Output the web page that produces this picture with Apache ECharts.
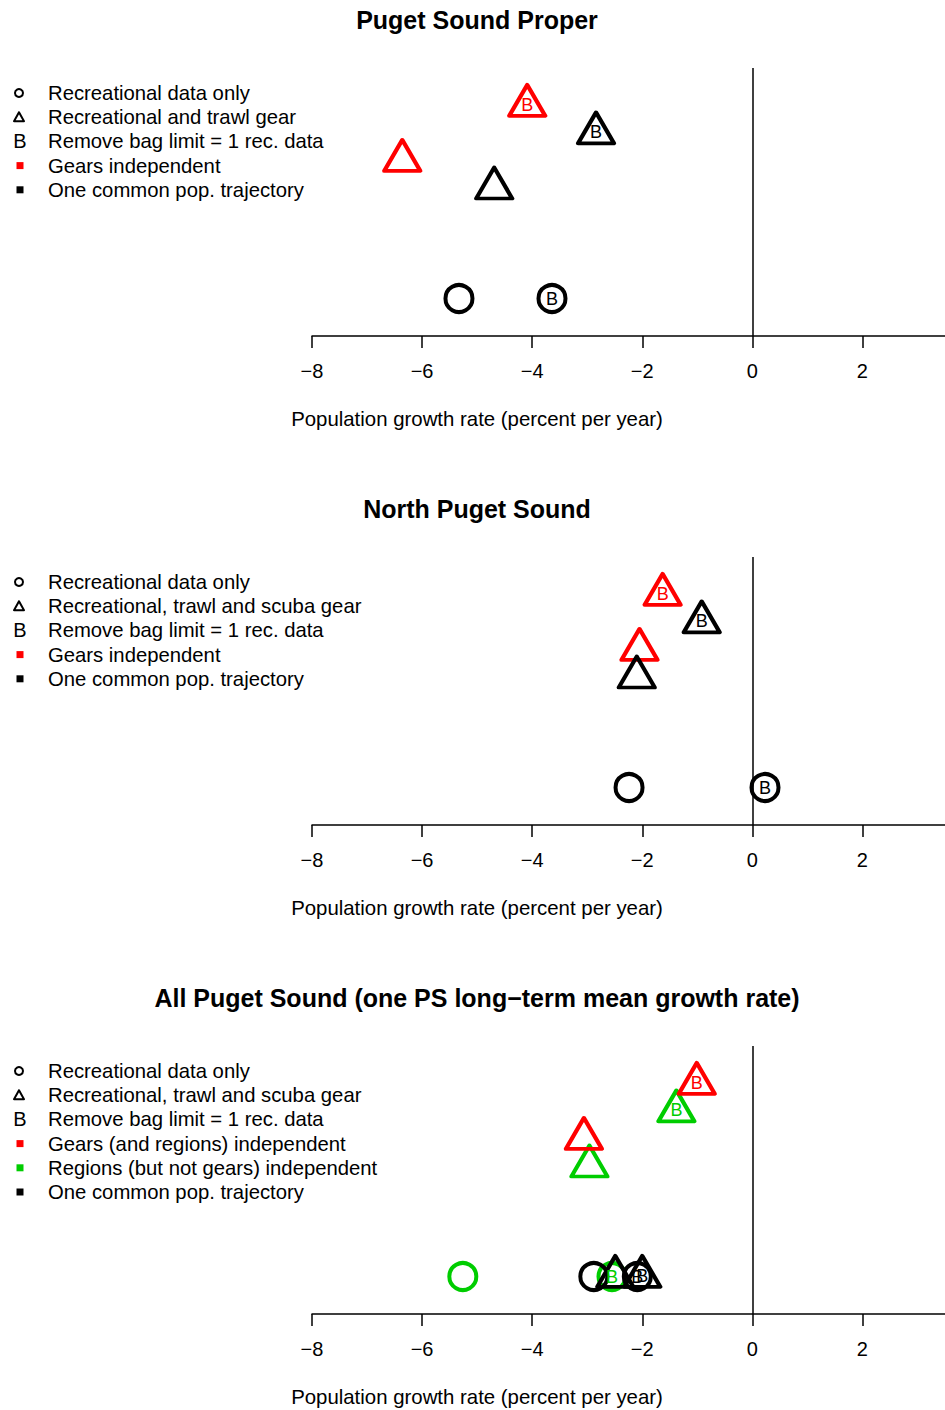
<!DOCTYPE html>
<html><head><meta charset="utf-8">
<script src="https://cdn.jsdelivr.net/npm/echarts@6/dist/echarts.min.js"></script>
<style>html,body{margin:0;padding:0;background:#fff}#c{width:945px;height:1410px}</style>
</head><body><div id="c"></div><script>
const FONT = "'Liberation Sans', Arial, sans-serif";
const xTicks = [-8, -6, -4, -2, 0, 2];
const panelTitles = ['Puget Sound Proper', 'North Puget Sound', 'All Puget Sound (one PS long\u2212term mean growth rate)'];
const xAxisTitle = 'Population growth rate (percent per year)';
const legend1 = ['Recreational data only', 'Recreational and trawl gear', 'Remove bag limit = 1 rec. data', 'Gears independent', 'One common pop. trajectory'];
const legend2 = ['Recreational data only', 'Recreational, trawl and scuba gear', 'Remove bag limit = 1 rec. data', 'Gears independent', 'One common pop. trajectory'];
const legend3 = ['Recreational data only', 'Recreational, trawl and scuba gear', 'Remove bag limit = 1 rec. data', 'Gears (and regions) independent', 'Regions (but not gears) independent', 'One common pop. trajectory'];

// values: [growth rate (%/yr), plotting row]
// Panel 1: Puget Sound Proper
const p1RedTri = [[-6.36, 5]];
const p1RedTriB = [[-4.09, 7]];
const p1BlackTri = [[-4.69, 4]];
const p1BlackTriB = [[-2.84, 6]];
const p1BlackCirc = [[-5.33, 0]];
const p1BlackCircB = [[-3.64, 0]];
// Panel 2: North Puget Sound
const p2RedTri = [[-2.05, 5]];
const p2RedTriB = [[-1.63, 7]];
const p2BlackTri = [[-2.10, 4]];
const p2BlackTriB = [[-0.92, 6]];
const p2BlackCirc = [[-2.24, 0]];
const p2BlackCircB = [[0.23, 0]];
// Panel 3: All Puget Sound
const p3RedTri = [[-3.06, 5]];
const p3RedTriB = [[-1.01, 7]];
const p3GreenTri = [[-2.96, 4]];
const p3GreenTriB = [[-1.38, 6]];
const p3GreenCirc = [[-5.26, 0]];
const p3GreenCircB = [[-2.55, 0]];
const p3BlackCirc = [[-2.88, 0]];
const p3BlackCircB = [[-2.09, 0]];
const p3BlackTri = [[-2.49, 0]];
const p3BlackTriB = [[-2.00, 0]];

const RED = '#FF0000', GREEN = '#00CD00', BLACK = '#000000';
const OFF = 489;

function ser(g, data, shape, color, withB, extra) {
  const tri = shape === 'triangle';
  const s = {
    type: 'scatter', xAxisIndex: g, yAxisIndex: g, data: data,
    symbol: shape, symbolSize: tri ? [36, 31] : 27,
    symbolOffset: tri ? [0, -5.2] : [0, 0],
    itemStyle: { color: 'rgba(0,0,0,0)', borderColor: color, borderWidth: 4, borderJoin: 'round', opacity: 1 },
    label: { show: withB, position: 'inside', formatter: 'B', color: color, fontSize: 18, fontFamily: FONT,
      textBorderWidth: 0, offset: tri ? [0, 4.5] : [0, 0] },
    emphasis: { disabled: true }, silent: true, animation: false
  };
  return Object.assign(s, extra || {});
}
function vline() {
  return { markLine: { silent: true, symbol: 'none', animation: false, label: { show: false },
    lineStyle: { color: '#000', width: 1.5, type: 'solid' }, data: [{ xAxis: 0 }] } };
}

const series = [
  ser(0, p1RedTri, 'triangle', RED, false, vline()),
  ser(0, p1RedTriB, 'triangle', RED, true),
  ser(0, p1BlackTri, 'triangle', BLACK, false),
  ser(0, p1BlackTriB, 'triangle', BLACK, true),
  ser(0, p1BlackCirc, 'circle', BLACK, false),
  ser(0, p1BlackCircB, 'circle', BLACK, true),

  ser(1, p2RedTri, 'triangle', RED, false, vline()),
  ser(1, p2RedTriB, 'triangle', RED, true),
  ser(1, p2BlackTri, 'triangle', BLACK, false),
  ser(1, p2BlackTriB, 'triangle', BLACK, true),
  ser(1, p2BlackCirc, 'circle', BLACK, false),
  ser(1, p2BlackCircB, 'circle', BLACK, true),

  ser(2, p3GreenTri, 'triangle', GREEN, false, vline()),
  ser(2, p3RedTri, 'triangle', RED, false),
  ser(2, p3GreenTriB, 'triangle', GREEN, true),
  ser(2, p3RedTriB, 'triangle', RED, true),
  ser(2, p3GreenCirc, 'circle', GREEN, false),
  ser(2, p3GreenCircB, 'circle', GREEN, true),
  ser(2, p3BlackCirc, 'circle', BLACK, false),
  ser(2, p3BlackCircB, 'circle', BLACK, true),
  ser(2, p3BlackTri, 'triangle', BLACK, false),
  ser(2, p3BlackTriB, 'triangle', BLACK, true)
];

const grids = [0, 1, 2].map(i => ({ left: 312, right: 0, top: 68 + OFF * i, height: 268 }));
const xAxes = [0, 1, 2].map(i => ({
  type: 'value', gridIndex: i, min: -8, max: 3.5, interval: 2,
  splitLine: { show: false },
  axisLine: { show: true, onZero: false, lineStyle: { color: '#000', width: 1.5 } },
  axisTick: { show: true, length: 12, inside: false, customValues: xTicks, lineStyle: { color: '#000', width: 1.5 } },
  axisLabel: { show: true, customValues: xTicks, margin: 25, fontSize: 20, fontFamily: FONT, color: '#000',
    formatter: v => String(v).replace('-', '\u2212') }
}));
const yAxes = [0, 1, 2].map(i => ({ type: 'value', gridIndex: i, min: -1.36, max: 8.36, show: false }));

const graphic = [];
panelTitles.forEach((t, i) => {
  graphic.push({ type: 'text', x: 477, y: 20 + OFF * i, silent: true,
    style: { text: t, font: 'bold 25px ' + FONT, fill: '#000', align: 'center', verticalAlign: 'middle' } });
  graphic.push({ type: 'text', x: 477, y: 419 + OFF * i, silent: true,
    style: { text: xAxisTitle, font: '20.4px ' + FONT, fill: '#000', align: 'center', verticalAlign: 'middle' } });
});
function legendSym(kind, y) {
  if (kind === 'circle') return { type: 'circle', shape: { cx: 19, cy: y, r: 4 }, style: { fill: 'none', stroke: '#000', lineWidth: 2 } };
  if (kind === 'triangle') return { type: 'polygon', shape: { points: [[19, y - 5], [14, y + 4], [24, y + 4]] }, style: { fill: 'none', stroke: '#000', lineWidth: 2, lineJoin: 'round' } };
  if (kind === 'B') return { type: 'text', x: 20, y: y, style: { text: 'B', font: '20px ' + FONT, fill: '#000', align: 'center', verticalAlign: 'middle' } };
  return { type: 'rect', shape: { x: 16.5, y: y - 3.5, width: 7, height: 7 }, style: { fill: kind, stroke: 'none' } };
}
const legendKinds = [
  ['circle', 'triangle', 'B', RED, BLACK],
  ['circle', 'triangle', 'B', RED, BLACK],
  ['circle', 'triangle', 'B', RED, GREEN, BLACK]
];
[legend1, legend2, legend3].forEach((labels, i) => {
  labels.forEach((t, j) => {
    const y = 93 + OFF * i + j * 24.2;
    const sym = legendSym(legendKinds[i][j], y);
    sym.silent = true;
    graphic.push(sym);
    graphic.push({ type: 'text', x: 48, y: y, silent: true,
      style: { text: t, font: '20.3px ' + FONT, fill: '#000', align: 'left', verticalAlign: 'middle' } });
  });
});

const chart = echarts.init(document.getElementById('c'), null, { renderer: 'svg', width: 945, height: 1410 });
chart.setOption({
  backgroundColor: '#fff', animation: false,
  grid: grids, xAxis: xAxes, yAxis: yAxes, series: series, graphic: graphic
});
</script></body></html>
